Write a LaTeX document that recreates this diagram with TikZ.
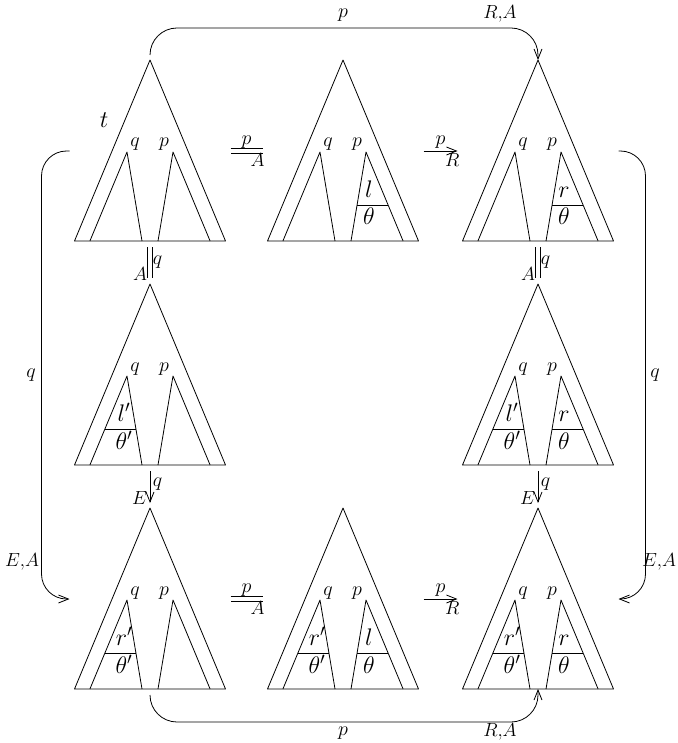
\RequirePackage{fix-cm}
\documentclass[tikz,border=0pt]{standalone}
\usetikzlibrary{arrows.meta}
\tikzset{
  sm/.style={font=\fontsize{20}{22}\selectfont, inner sep=0pt},
  cp/.style={font=\fontsize{19}{21}\selectfont, inner sep=0pt},
  lbl/.style={font=\fontsize{20}{22}\selectfont, inner sep=2.5pt},
  lblc/.style={font=\fontsize{19}{21}\selectfont, inner sep=2.5pt},
  big/.style={font=\fontsize{24}{26}\selectfont, inner sep=0pt},
  arr/.style={-{Straight Barb[length=10pt,width=8pt]}},
  eq/.style={double, double distance=3.8pt},
  pics/tree/.style={code={
    \draw (0,0) -- (-75.5,181) -- (75.5,181) -- cycle;
    \draw (-60.1,181) -- (-23,92) -- (-8,181);
    \draw (8,181) -- (23,92) -- (60.1,181);
    \node[sm, anchor=base] (-q) at (-15,87) {$q$};
    \node[sm, anchor=base] (-p) at (14,87) {$p$};
    \coordinate (-apex) at (0,0);
    \coordinate (-top) at (0,-5);
    \coordinate (-bot) at (0,181);
    \coordinate (-bots) at (0,187);
    \coordinate (-w) at (-80.5,91);
    \coordinate (-e) at (80.5,91);
  }},
  pics/lcell/.style 2 args={code={
    \draw (-45.1,145) -- (-14.1,145);
    \node[big, anchor=base] (-u) at (-26,137) {$#1$};
    \node[big, anchor=base] (-d) at (-26,165) {$#2$};
  }},
  pics/rcell/.style 2 args={code={
    \draw (14.1,145) -- (45.1,145);
    \node[big, anchor=base] (-u) at (26,137) {$#1$};
    \node[big, anchor=base] (-d) at (26,165) {$#2$};
  }},
}
\begin{document}
\begin{tikzpicture}[x=1pt,y=-1pt,line width=.8pt,line join=round]
\useasboundingbox (0,0) rectangle (677,743);
% trees
\pic (T11) at (150,60) {tree};
\pic (T12) at (343,60) {tree};
\pic (T13) at (538,60) {tree};
\pic (T21) at (150,284) {tree};
\pic (T23) at (538,284) {tree};
\pic (T31) at (150,508) {tree};
\pic (T32) at (343,508) {tree};
\pic (T33) at (538,508) {tree};
\node[big, anchor=base] (tlab) at (104,128) {$t$};
% cells
\pic (C12p) at (T12-apex) {rcell={l}{\theta}};
\pic (C13p) at (T13-apex) {rcell={r}{\theta}};
\pic (C21q) at (T21-apex) {lcell={l'}{\theta'}};
\pic (C23q) at (T23-apex) {lcell={l'}{\theta'}};
\pic (C23p) at (T23-apex) {rcell={r}{\theta}};
\pic (C31q) at (T31-apex) {lcell={r'}{\theta'}};
\pic (C32q) at (T32-apex) {lcell={r'}{\theta'}};
\pic (C32p) at (T32-apex) {rcell={l}{\theta}};
\pic (C33q) at (T33-apex) {lcell={r'}{\theta'}};
\pic (C33p) at (T33-apex) {rcell={r}{\theta}};
% horizontal arrows
\draw[eq] (T11-e) -- node[lbl, above] (h1p) {$p$} node[lblc, below, pos=.85] (h1A) {$A$} (T12-w);
\draw[arr] (T12-e) -- node[lbl, above] (h2p) {$p$} node[lblc, below, pos=.85] (h2R) {$R$} (T13-w);
\draw[eq] (T31-e) -- node[lbl, above] (h3p) {$p$} node[lblc, below, pos=.85] (h3A) {$A$} (T32-w);
\draw[arr] (T32-e) -- node[lbl, above] (h4p) {$p$} node[lblc, below, pos=.85] (h4R) {$R$} (T33-w);
% vertical arrows
\draw[eq, shorten <=6pt, shorten >=6pt] (T11-bot) -- node[lblc, left, pos=.76] (v1A) {$A$} node[lbl, right, pos=.5] (v1q) {$q$} (T21-apex);
\draw[eq, shorten <=6pt, shorten >=6pt] (T13-bot) -- node[lblc, left, pos=.76] (v2A) {$A$} node[lbl, right, pos=.5] (v2q) {$q$} (T23-apex);
\draw[arr, shorten <=6pt, shorten >=5pt] (T21-bot) -- node[lblc, left, pos=.76] (v3E) {$E$} node[lbl, right, pos=.45] (v3q) {$q$} (T31-apex);
\draw[arr, shorten <=6pt, shorten >=5pt] (T23-bot) -- node[lblc, left, pos=.76] (v4E) {$E$} node[lbl, right, pos=.45] (v4q) {$q$} (T33-apex);
% long connectors
\draw[arr, rounded corners=27pt] (T11-top) -- ++(0,-27) -| (T13-apex);
\node[sm, anchor=base] (tp) at (343,18) {$p$};
\node[cp, anchor=base] (tra) at (500,19) {$R{,}A$};
\draw[arr, rounded corners=27pt] (T31-bots) -- ++(0,27) -| (T33-bot);
\node[sm, anchor=base] (bp) at (343,735) {$p$};
\node[cp, anchor=base] (bra) at (500,736) {$R{,}A$};
\draw[arr, rounded corners=25pt] (T11-w) -- ++(-28,0) |- (T31-w);
\node[sm] (lq) at (31,375) {$q$};
\node[cp] (lea) at (22,562) {$E{,}A$};
\draw[arr, rounded corners=25pt] (T13-e) -- ++(27,0) |- (T33-e);
\node[sm] (rq) at (655,375) {$q$};
\node[cp] (rea) at (659,562) {$E{,}A$};
\end{tikzpicture}
\end{document}
